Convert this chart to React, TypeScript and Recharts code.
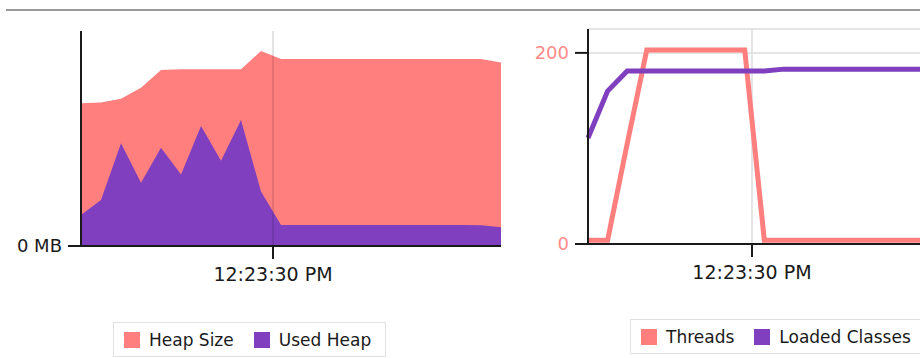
import { AreaChart, Area, LineChart, Line, XAxis, YAxis, CartesianGrid, ReferenceLine } from "recharts"

const FONT = "'DejaVu Sans', Verdana, sans-serif"
const SALMON = "#FF7F7F"
const PURPLE = "#7F3FBF"
const AXIS = "#1a1a1a"

// memory panel: samples every 2s starting 12:23:10.8 PM
const HEAP_T0 = 44590.8
const heapTimes = [0, 2, 4, 6, 8, 10, 12, 14, 16, 18, 20, 22, 24, 26, 28, 30, 32, 34, 36, 38, 40, 42]
const heapSizeMB = [66.4, 66.7, 68.5, 73.6, 81.9, 82.2, 82.2, 82.2, 82.2, 90.7, 87, 87, 87, 87, 87, 87, 87, 87, 87, 87, 87, 85.3]
const usedHeapMB = [14.4, 21.4, 47.8, 29.4, 45.7, 33.3, 55.8, 39.7, 58.6, 25.3, 9.8, 9.8, 9.8, 9.8, 9.8, 9.8, 9.8, 9.8, 9.8, 9.8, 9.6, 8.7]

// threads / classes panel: samples every 2s starting 12:23:13.26 PM
const THREAD_T0 = 44593.26
const threadTimes = [0, 2, 4, 6, 8, 10, 12, 14, 16, 18, 20, 22, 24, 26, 28, 30, 32, 34, 36, 38, 40, 42, 44]
const threads = [4, 4, 105, 203, 203, 203, 203, 203, 203, 4, 4, 4, 4, 4, 4, 4, 4, 4, 4, 4, 4, 4, 4]
const loadedClasses = [111, 160, 181, 181, 181, 181, 181, 181, 181, 181, 183, 183, 183, 183, 183, 183, 183, 183, 183, 183, 183, 183, 183]

const timeTicks = [44610] // 12:23:30 PM
const threadTicks = [0, 200]

const heapData = heapTimes.map((t, i) => ({ t: HEAP_T0 + t, heap: heapSizeMB[i], used: usedHeapMB[i] }))
const threadData = threadTimes.map((t, i) => ({ t: THREAD_T0 + t, threads: threads[i], classes: loadedClasses[i] }))

function clock(s: number) {
  const sec = Math.round(s)
  const h = Math.floor(sec / 3600)
  const m = Math.floor((sec % 3600) / 60)
  const ss = sec % 60
  const h12 = h % 12 === 0 ? 12 : h % 12
  return `${h12}:${String(m).padStart(2, "0")}:${String(ss).padStart(2, "0")} ${h >= 12 ? "PM" : "AM"}`
}

function LegendBox({ items, left, top }: { items: { name: string; color: string }[]; left: number; top: number }) {
  return (
    <div
      style={{
        position: "absolute",
        left,
        top,
        height: 33,
        display: "flex",
        alignItems: "center",
        gap: 20,
        padding: "0 14px 0 10px",
        border: "1px solid #e2e2e2",
        fontFamily: FONT,
        fontSize: 17,
        color: "#1a1a1a",
        whiteSpace: "nowrap",
      }}
    >
      {items.map((it) => (
        <div key={it.name} style={{ display: "flex", alignItems: "center" }}>
          <span style={{ width: 16, height: 16, background: it.color, marginRight: 9, display: "inline-block" }} />
          <span>{it.name}</span>
        </div>
      ))}
    </div>
  )
}

export default function App() {
  const axisLine = { stroke: AXIS, strokeWidth: 2 }
  return (
    <div style={{ position: "absolute", left: 0, top: 0, width: 920, height: 358, overflow: "hidden", background: "#fff" }}>
      <div style={{ position: "absolute", left: 6, right: 0, top: 9, height: 2, background: "#9a9a9a" }} />

      <div style={{ position: "absolute", left: 0, top: 0 }}>
        <AreaChart width={520} height={300} data={heapData} margin={{ top: 31, right: 19, bottom: 0, left: 0 }}>
          <XAxis
            dataKey="t"
            type="number"
            domain={[HEAP_T0, HEAP_T0 + 42]}
            ticks={timeTicks}
            tickFormatter={clock}
            height={54}
            tickSize={13}
            tickMargin={9}
            axisLine={axisLine}
            tickLine={axisLine}
            tick={{ fill: "#1a1a1a", fontSize: 19, fontFamily: FONT }}
          />
          <YAxis
            type="number"
            domain={[0, 100]}
            ticks={[0]}
            tickFormatter={(v) => `${v} MB`}
            width={81}
            tickSize={13}
            tickMargin={6}
            axisLine={axisLine}
            tickLine={axisLine}
            tick={{ fill: "#1a1a1a", fontSize: 18, fontFamily: FONT }}
          />
          <Area type="linear" dataKey="heap" name="Heap Size" stroke="none" fill={SALMON} fillOpacity={1} isAnimationActive={false} />
          <Area type="linear" dataKey="used" name="Used Heap" stroke="none" fill={PURPLE} fillOpacity={1} isAnimationActive={false} />
          <ReferenceLine x={timeTicks[0]} stroke="#000" strokeOpacity={0.14} strokeWidth={1.5} />
        </AreaChart>
      </div>
      <LegendBox
        left={113}
        top={322}
        items={[
          { name: "Heap Size", color: SALMON },
          { name: "Used Heap", color: PURPLE },
        ]}
      />

      <div style={{ position: "absolute", left: 507, top: 0 }}>
        <LineChart width={600} height={300} data={threadData} margin={{ top: 29, right: 88, bottom: 0, left: 0 }}>
          <CartesianGrid stroke="#dcdcdc" strokeWidth={1.5} />
          <XAxis
            dataKey="t"
            type="number"
            domain={[THREAD_T0, THREAD_T0 + 44]}
            ticks={timeTicks}
            tickFormatter={clock}
            height={56}
            tickSize={13}
            tickMargin={9}
            axisLine={axisLine}
            tickLine={axisLine}
            tick={{ fill: "#1a1a1a", fontSize: 19, fontFamily: FONT }}
          />
          <YAxis
            type="number"
            domain={[0, 225]}
            ticks={threadTicks}
            width={81}
            tickSize={13}
            tickMargin={6}
            axisLine={axisLine}
            tickLine={axisLine}
            tick={{ fill: "#FF8A8A", fontSize: 18, fontFamily: FONT }}
          />
          <Line type="linear" dataKey="threads" name="Threads" stroke={SALMON} strokeWidth={5} dot={false} isAnimationActive={false} />
          <Line type="linear" dataKey="classes" name="Loaded Classes" stroke={PURPLE} strokeWidth={5} dot={false} isAnimationActive={false} />
        </LineChart>
      </div>
      <LegendBox
        left={630}
        top={319}
        items={[
          { name: "Threads", color: SALMON },
          { name: "Loaded Classes", color: PURPLE },
        ]}
      />
    </div>
  )
}
